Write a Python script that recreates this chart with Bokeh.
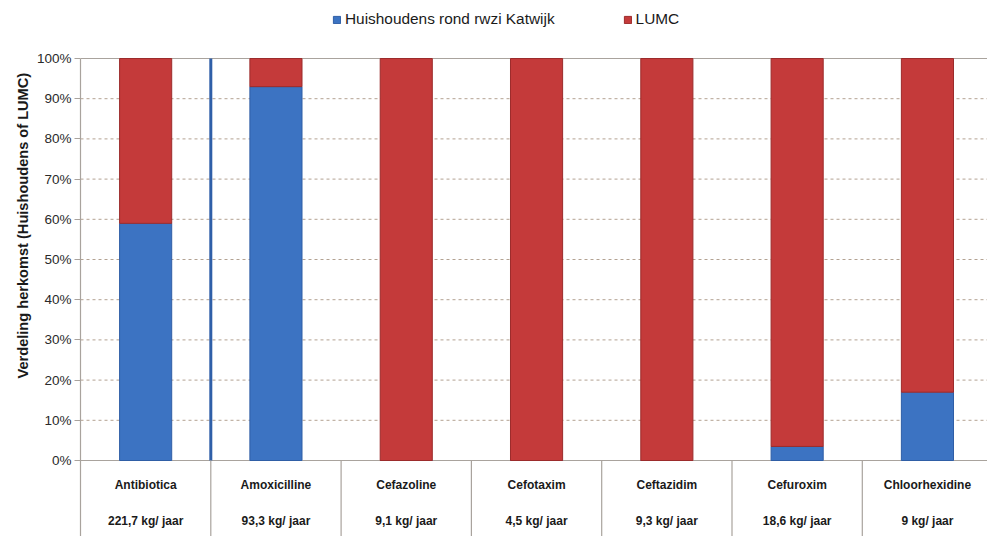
from bokeh.core.properties import value
from bokeh.embed import file_html
from bokeh.models import (ColumnDataSource, FixedTicker, Legend, LegendItem,
                          LinearAxis, NumeralTickFormatter, Range1d, Title)
from bokeh.plotting import figure
from bokeh.resources import INLINE

# Share of each substance by origin (fraction from households; the rest is LUMC)
categories = ["Antibiotica", "Amoxicilline", "Cefazoline", "Cefotaxim",
              "Ceftazidim", "Cefuroxim", "Chloorhexidine"]
loads = ["221,7 kg/ jaar", "93,3 kg/ jaar", "9,1 kg/ jaar", "4,5 kg/ jaar",
         "9,3 kg/ jaar", "18,6 kg/ jaar", "9 kg/ jaar"]
households = [0.59, 0.93, 0.0, 0.0, 0.0, 0.035, 0.17]
lumc = [1 - h for h in households]
y_ticks = [0.0, 0.1, 0.2, 0.3, 0.4, 0.5, 0.6, 0.7, 0.8, 0.9, 1.0]
grid_levels = y_ticks[1:-1]

W, H = 987, 536
LEFT = 80
TOP_PX, BOTTOM_PX = 58, 460          # pixel rows of 100% and 0%
px_per_unit = BOTTOM_PX - TOP_PX
y_low = -(H - BOTTOM_PX) / px_per_unit
y_high = 1 + TOP_PX / px_per_unit
n = len(categories)
x_end = (W - LEFT) / 130.3

FONT = "Liberation Sans"
BLUE = "#3c73c2"
RED = "#c43a3a"
GRID = "#b3a292"
RULE = "#a9a39d"

p = figure(width=W, height=H, output_backend="svg", toolbar_location=None,
           x_range=Range1d(0, x_end), y_range=Range1d(y_low, y_high),
           min_border_left=LEFT, min_border_right=0, min_border_top=0,
           min_border_bottom=0, outline_line_color=None, x_axis_location=None,
           y_axis_location=None)
p.grid.visible = False
p.background_fill_color = "white"
p.border_fill_color = "white"

# dashed gridlines between 10% and 90%
p.segment(x0=[0] * len(grid_levels), x1=[x_end] * len(grid_levels),
          y0=grid_levels, y1=grid_levels, line_color=GRID, line_width=1,
          line_dash="3 3", level="underlay")

# frame rules: top (100%), bottom (0%)
p.segment(x0=[0, 0], x1=[x_end, x_end], y0=[1, 0], y1=[1, 0],
          line_color=RULE, line_width=1.2)

src = ColumnDataSource(dict(
    x=[i + 0.5 for i in range(n)],
    hh=households,
    lu=[h + l for h, l in zip(households, lumc)],
    name=categories,
    load=loads,
))

blue = p.vbar(x="x", width=0.4, bottom=0, top="hh", source=src,
              fill_color=BLUE, line_color="#2f5ea6", line_width=1)
red = p.vbar(x="x", width=0.4, bottom="hh", top="lu", source=src,
             fill_color=RED, line_color="#9c2b2b", line_width=1)

# separator after the total "Antibiotica"
p.segment(x0=[1], x1=[1], y0=[0], y1=[1], line_color="#2f5fa8", line_width=3)

# category table below the bars
bounds = list(range(1, n))
p.segment(x0=bounds, x1=bounds, y0=[0] * len(bounds), y1=[y_low] * len(bounds),
          line_color=RULE, line_width=1.2)

name_y = (BOTTOM_PX - 484) / px_per_unit
load_y = (BOTTOM_PX - 520) / px_per_unit
p.text(x="x", y=name_y, text="name", source=src, text_align="center",
       text_baseline="middle", text_font=value(FONT), text_font_style="bold",
       text_font_size="12px", text_color="#1a1a1a")
p.text(x="x", y=load_y, text="load", source=src, text_align="center",
       text_baseline="middle", text_font=value(FONT), text_font_style="bold",
       text_font_size="12px", text_color="#1a1a1a")

# y axis
yaxis = LinearAxis(bounds=(y_low, 1.0), ticker=FixedTicker(ticks=y_ticks),
                   formatter=NumeralTickFormatter(format="0%"))
yaxis.axis_line_color = RULE
yaxis.axis_line_width = 1.2
yaxis.major_tick_line_color = RULE
yaxis.major_tick_out = 6
yaxis.major_tick_in = 0
yaxis.minor_tick_line_color = None
yaxis.major_label_text_font = FONT
yaxis.major_label_text_font_size = "13.5px"
yaxis.major_label_text_color = "#2a2a2a"
yaxis.major_label_standoff = 3
p.add_layout(yaxis, "left")

# axis title, placed over the upper part of the chart
p.add_layout(Title(text="Verdeling herkomst (Huishoudens of LUMC)", align="left",
                   offset=158, standoff=5, text_font=FONT, text_font_style="bold",
                   text_font_size="14.6px", text_color="#1a1a1a"), "left")

legend = Legend(items=[LegendItem(label="Huishoudens rond rwzi Katwijk", renderers=[blue]),
                       LegendItem(label="LUMC", renderers=[red])],
                orientation="horizontal", location=(252, H - 28),
                glyph_width=9, glyph_height=9, label_standoff=4, spacing=68,
                padding=0, margin=0, border_line_color=None,
                background_fill_alpha=0, label_text_font=FONT,
                label_text_font_size="15.4px", label_text_color="#1a1a1a",
                label_height=18)
p.add_layout(legend)

open("out.html", "w").write(file_html(p, INLINE))
